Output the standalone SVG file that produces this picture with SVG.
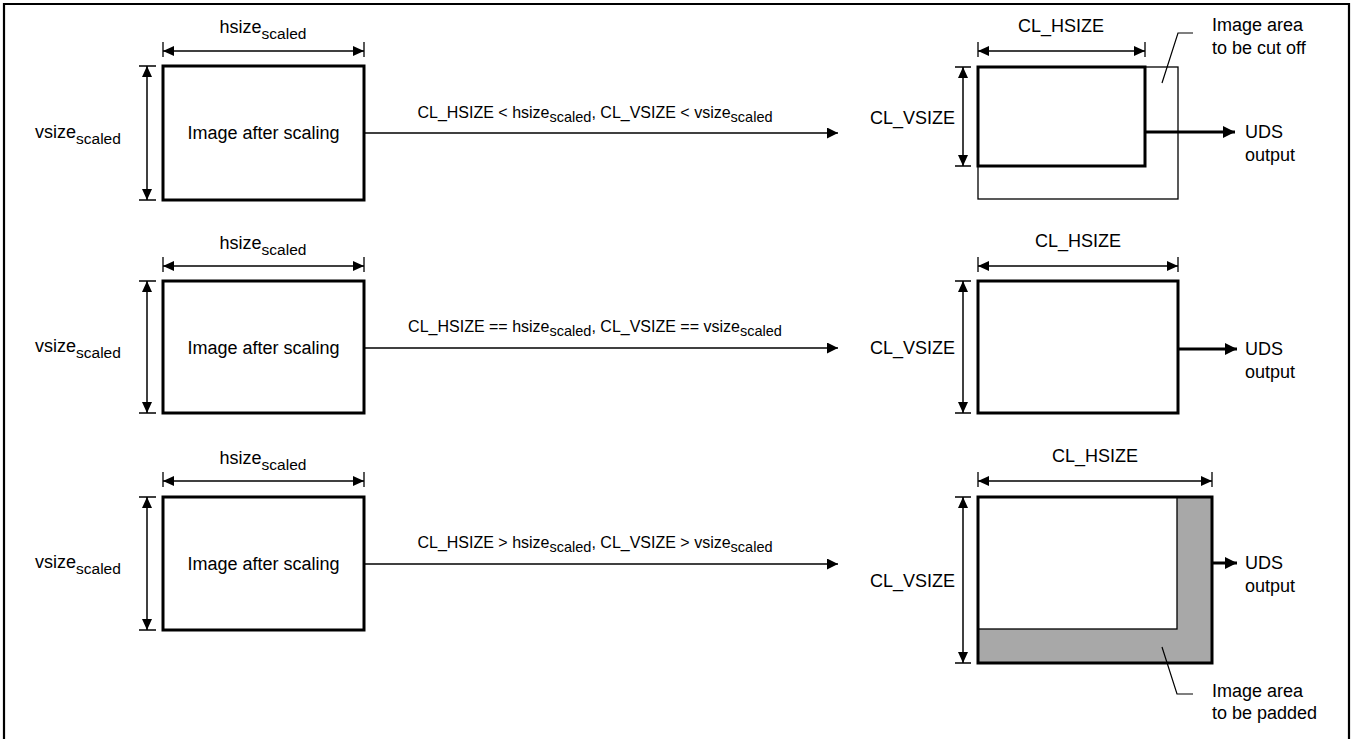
<svg xmlns="http://www.w3.org/2000/svg" width="1354" height="739" viewBox="0 0 1354 739">
<style>
text{font-family:"Liberation Sans",Arial,Helvetica,sans-serif;fill:#000}
.big{font-size:18px}
.sub{font-size:15.5px}
.cl{font-size:16px}
.cls{font-size:14.5px}
.box{fill:#fff;stroke:#000;stroke-width:3}
.thin{fill:none;stroke:#000;stroke-width:1.3}
.dim{fill:none;stroke:#000;stroke-width:1.5;marker-start:url(#dh);marker-end:url(#dh)}
.tick{fill:none;stroke:#000;stroke-width:1.3}
.conn{fill:none;stroke:#000;stroke-width:1.6;marker-end:url(#ah)}
.out{fill:none;stroke:#000;stroke-width:3;marker-end:url(#oh)}
.lead{fill:none;stroke:#000;stroke-width:1.2}
</style>
<defs>
<marker id="dh" markerUnits="userSpaceOnUse" markerWidth="12" markerHeight="11" refX="11" refY="5" orient="auto-start-reverse"><path d="M0,0 L11,5 L0,10 z" fill="#000"/></marker>
<marker id="ah" markerUnits="userSpaceOnUse" markerWidth="12" markerHeight="12" refX="11" refY="5.5" orient="auto"><path d="M0,0 L11,5.5 L0,11 z" fill="#000"/></marker>
<marker id="oh" markerUnits="userSpaceOnUse" markerWidth="13" markerHeight="13" refX="12" refY="6" orient="auto"><path d="M0,0 L12,6 L0,12 z" fill="#000"/></marker>
</defs>
<rect width="1354" height="739" fill="#fff"/>
<path d="M4,739 V4 H1349 V739" fill="none" stroke="#000" stroke-width="2.2"/>

<!-- Row 1 source -->
<g id="src1">
<rect class="box" x="163" y="66" width="201" height="134"/>
<text class="big" x="263.5" y="139" text-anchor="middle">Image after scaling</text>
<path class="tick" d="M163,42 V57 M364,42 V57 M139,66 H156 M139,200 H156"/>
<path class="dim" d="M163,51 H364"/>
<path class="dim" d="M147,66 V200"/>
<text class="big" x="263" y="33" text-anchor="middle">hsize<tspan class="sub" dy="6">scaled</tspan></text>
<text class="big" x="35" y="138">vsize<tspan class="sub" dy="6">scaled</tspan></text>
</g>

<!-- Row 2 source -->
<g id="src2">
<rect class="box" x="163" y="281" width="201" height="132"/>
<text class="big" x="263.5" y="354" text-anchor="middle">Image after scaling</text>
<path class="tick" d="M163,257 V272 M364,257 V272 M139,281 H156 M139,413 H156"/>
<path class="dim" d="M163,266 H364"/>
<path class="dim" d="M147,281 V413"/>
<text class="big" x="263" y="249" text-anchor="middle">hsize<tspan class="sub" dy="6">scaled</tspan></text>
<text class="big" x="35" y="352">vsize<tspan class="sub" dy="6">scaled</tspan></text>
</g>

<!-- Row 3 source -->
<g id="src3">
<rect class="box" x="163" y="497" width="201" height="133"/>
<text class="big" x="263.5" y="570" text-anchor="middle">Image after scaling</text>
<path class="tick" d="M163,472 V487 M364,472 V487 M139,497 H156 M139,630 H156"/>
<path class="dim" d="M163,481 H364"/>
<path class="dim" d="M147,497 V630"/>
<text class="big" x="263" y="464" text-anchor="middle">hsize<tspan class="sub" dy="6">scaled</tspan></text>
<text class="big" x="35" y="568">vsize<tspan class="sub" dy="6">scaled</tspan></text>
</g>

<!-- Row 1 result: cut off -->
<g id="res1">
<rect class="thin" x="978" y="67" width="200" height="132"/>
<rect class="box" x="978" y="67" width="167" height="99" style="fill:none"/>
<path class="tick" d="M978,42 V57 M1145,42 V57 M955,67 H971 M955,166 H971"/>
<path class="dim" d="M978,51 H1145"/>
<path class="dim" d="M963,67 V166"/>
<text class="big" x="1061" y="32" text-anchor="middle">CL_HSIZE</text>
<text class="big" x="955" y="124" text-anchor="end">CL_VSIZE</text>
<path class="lead" d="M1162,83 L1178,33 H1193"/>
<text class="big" x="1212" y="31">Image area</text>
<text class="big" x="1212" y="54">to be cut off</text>
<text class="big" x="1245" y="138">UDS</text>
<text class="big" x="1245" y="161">output</text>
</g>

<!-- Row 2 result: equal -->
<g id="res2">
<rect class="box" x="978" y="281" width="200" height="132"/>
<path class="tick" d="M978,257 V272 M1178,257 V272 M955,281 H971 M955,413 H971"/>
<path class="dim" d="M978,266 H1178"/>
<path class="dim" d="M963,281 V413"/>
<text class="big" x="1078" y="247" text-anchor="middle">CL_HSIZE</text>
<text class="big" x="955" y="354" text-anchor="end">CL_VSIZE</text>
<text class="big" x="1245" y="355">UDS</text>
<text class="big" x="1245" y="378">output</text>
</g>

<!-- Row 3 result: padded -->
<g id="res3">
<rect x="978" y="497" width="234" height="166" fill="#a8a8a8"/>
<rect x="978" y="497" width="199" height="132" fill="#fff" stroke="#000" stroke-width="1.3"/>
<rect class="box" x="978" y="497" width="234" height="166" style="fill:none"/>
<path class="tick" d="M978,472 V487 M1212,472 V487 M955,497 H971 M955,663 H971"/>
<path class="dim" d="M978,481 H1212"/>
<path class="dim" d="M963,497 V663"/>
<text class="big" x="1095" y="462" text-anchor="middle">CL_HSIZE</text>
<text class="big" x="955" y="587" text-anchor="end">CL_VSIZE</text>
<path class="lead" d="M1162,647 L1177,694 H1193"/>
<text class="big" x="1212" y="697">Image area</text>
<text class="big" x="1212" y="719">to be padded</text>
<text class="big" x="1245" y="569">UDS</text>
<text class="big" x="1245" y="592">output</text>
</g>

<g id="connectors">
<path class="conn" d="M364,133 H838"/>
<path class="conn" d="M364,348 H838"/>
<path class="conn" d="M364,564 H838"/>
<path class="out" d="M1145,132 H1235"/>
<path class="out" d="M1178,349 H1237"/>
<path class="out" d="M1212,563 H1237"/>
<text class="cl" x="595" y="118" text-anchor="middle">CL_HSIZE &lt; hsize<tspan class="cls" dy="4">scaled</tspan><tspan dy="-4">, CL_VSIZE &lt; vsize</tspan><tspan class="cls" dy="4">scaled</tspan></text>
<text class="cl" x="595" y="332" text-anchor="middle">CL_HSIZE == hsize<tspan class="cls" dy="4">scaled</tspan><tspan dy="-4">, CL_VSIZE == vsize</tspan><tspan class="cls" dy="4">scaled</tspan></text>
<text class="cl" x="595" y="548" text-anchor="middle">CL_HSIZE &gt; hsize<tspan class="cls" dy="4">scaled</tspan><tspan dy="-4">, CL_VSIZE &gt; vsize</tspan><tspan class="cls" dy="4">scaled</tspan></text>
</g>
</svg>
